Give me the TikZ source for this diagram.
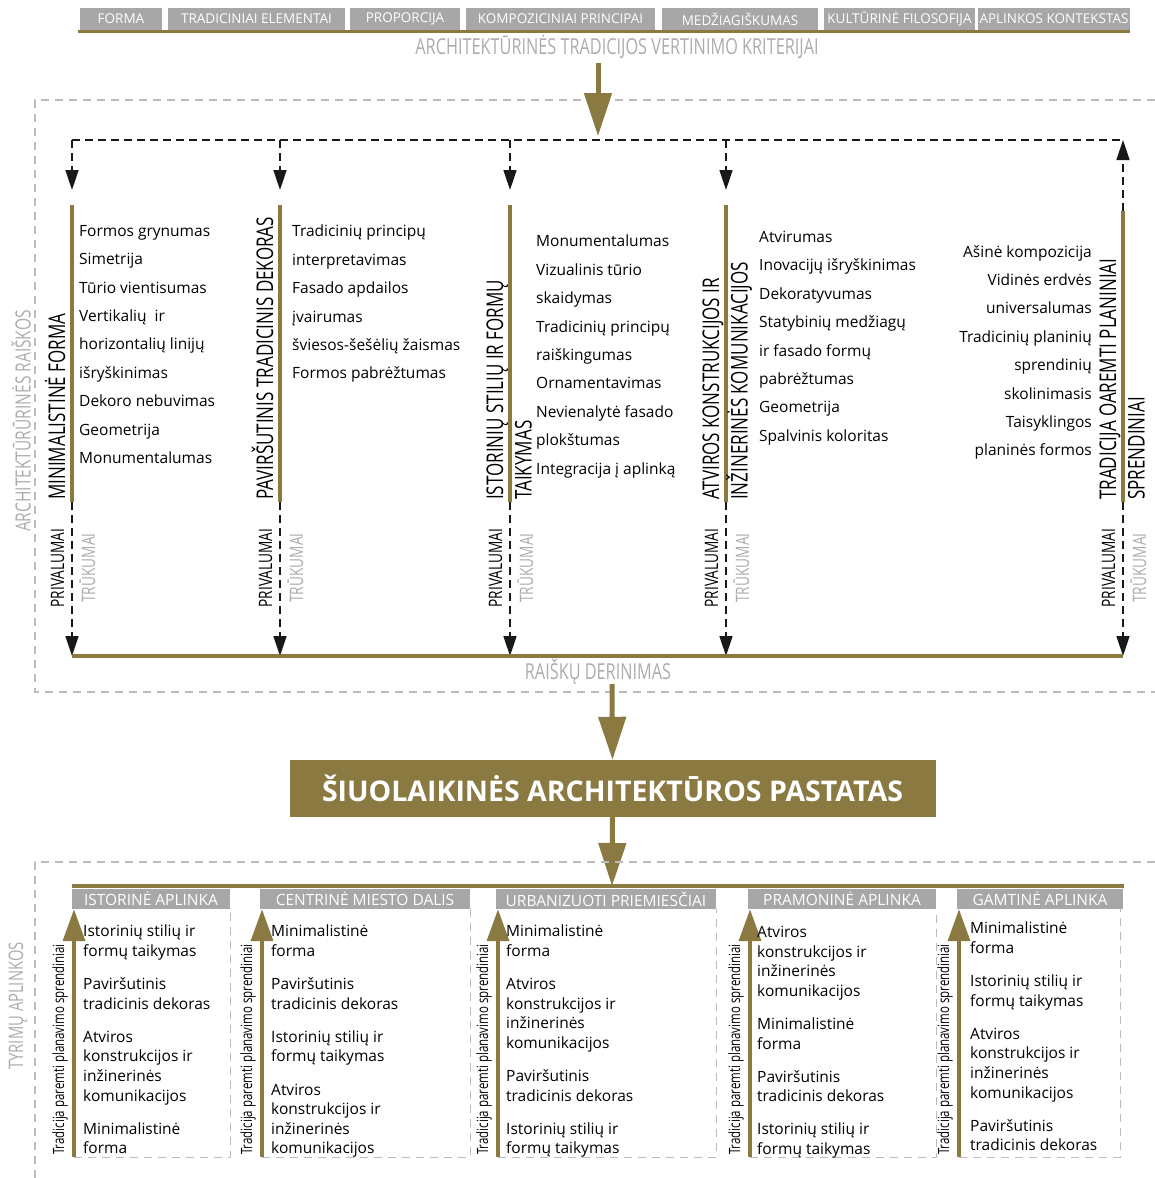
\documentclass[tikz,border=0pt]{standalone}
\usepackage{fontspec}
\setmainfont{Open Sans}
\newfontfamily\condfont{Open Sans}[FakeStretch=0.74]
\usetikzlibrary{arrows.meta}

\definecolor{gold}{RGB}{139,121,66}
\definecolor{tabgray}{RGB}{167,167,167}
\definecolor{softgray}{RGB}{172,172,172}
\definecolor{dashgray}{RGB}{188,188,188}
\definecolor{inkblack}{RGB}{25,25,25}

\begin{document}
\begin{tikzpicture}[x=1pt,y=1pt,yscale=-1,xscale=1,
  tab/.style={fill=tabgray, text=white, inner sep=0pt, minimum height=22, font=\fontsize{13.5}{14}\selectfont},
  envtab/.style={fill=tabgray, text=white, inner sep=0pt, minimum height=20, font=\fontsize{15.5}{16}\selectfont},
  goldline/.style={draw=gold, line width=3.5},
  goldbar/.style={draw=gold, line width=4},
  bigarrow/.style={draw=gold, line width=5, -{Triangle[length=43pt,width=27pt]}},
  envarrow/.style={draw=gold, line width=3.5, -{Triangle[length=32pt,width=22pt]}},
  blkdash/.style={draw=inkblack, line width=1.6, dash pattern=on 8pt off 5pt},
  blkarrow/.style={blkdash, -{Triangle[length=20pt,width=13pt]}},
  graybox/.style={draw=dashgray, line width=1.6, dash pattern=on 8pt off 6pt},
  colbox/.style={draw=dashgray, line width=1, dash pattern=on 8pt off 6pt},
  coltitle/.style={rotate=90, inner sep=0pt, anchor=base west, font=\fontsize{23}{24}\condfont},
  sidelbl/.style={rotate=90, inner sep=0pt, text=softgray, font=\fontsize{21}{22}\condfont},
  pros/.style={rotate=90, inner sep=0pt, anchor=base, font=\fontsize{18.5}{19}\condfont},
  cons/.style={pros, text=softgray},
  envlbl/.style={rotate=90, inner sep=0pt, anchor=base west, font=\fontsize{15.5}{16}\condfont},
  crit/.style={inner sep=0pt, text=softgray, font=\fontsize{22}{23}\condfont},
  item/.style={inner sep=0pt, align=left, anchor=north west, font=\fontsize{15.5}{28.4}\selectfont},
  envitem/.style={inner sep=0pt, align=left, anchor=north west, font=\fontsize{15.5}{19.6}\selectfont},
  mainbox/.style={fill=gold, text=white, inner sep=0pt, minimum width=646, minimum height=57, font=\bfseries\fontsize{28.5}{30}\selectfont}
]
\useasboundingbox (0,0) rectangle (1155,1178);

% Criteria tabs
\node[tab, minimum width=82] (forma) at (121,19) {FORMA};
\node[tab, minimum width=177] (elem) at (256.5,19) {TRADICINIAI ELEMENTAI};
\node[tab, minimum width=110] (prop) at (405,19) {PROPORCIJA};
\node[tab, minimum width=189] (komp) at (560.5,19) {KOMPOZICINIAI PRINCIPAI};
\node[tab, minimum width=156] (medz) at (740,19) {MEDŽIAGIŠKUMAS};
\node[tab, minimum width=151] (filo) at (899.5,19) {KULTŪRINĖ FILOSOFIJA};
\node[tab, minimum width=152] (aplk) at (1054,19) {APLINKOS KONTEKSTAS};
%Straight Lines
\coordinate (critL) at (78,31.5);
\coordinate (critR) at (1130,31.5);
\draw[goldline, line width=3] (critL) -- (critR);
% Text Node
\node[crit] (critlbl) at (617,47) {ARCHITEKTŪRINĖS TRADICIJOS VERTINIMO KRITERIJAI};

% Upper frame
\draw[graybox] (1155,100) -- (35,100) -- (35,692) -- (1155,692);
\node[sidelbl] (raisk) at (21,421) {ARCHITEKTŪRŪRINĖS RAIŠKOS};

% Fan-out line and column bars
\coordinate (crit0) at (598,63);
\coordinate (fan) at (598,140);
\coordinate (t1) at (72,140);
\coordinate (t2) at (280,140);
\coordinate (t3) at (510,140);
\coordinate (t4) at (726,140);
\coordinate (t5) at (1123,140);
\coordinate (b1t) at (72,205);
\coordinate (b2t) at (280,205);
\coordinate (b3t) at (510,205);
\coordinate (b4t) at (726,205);
\coordinate (b5t) at (1123,211);
\coordinate (b1b) at (72,502);
\coordinate (b2b) at (280,502);
\coordinate (b3b) at (510,502);
\coordinate (b4b) at (726,502);
\coordinate (b5b) at (1123,502);
\coordinate (g1) at (72,656);
\coordinate (g2) at (280,656);
\coordinate (g3) at (510,656);
\coordinate (g4) at (726,656);
\coordinate (g5) at (1123,656);

\draw[blkdash] (t1) -- (t5);
\draw[blkarrow, shorten >=15pt] (t1) -- (b1t);
\draw[blkarrow, shorten >=15pt] (t2) -- (b2t);
\draw[blkarrow, shorten >=15pt] (t3) -- (b3t);
\draw[blkarrow, shorten >=15pt] (t4) -- (b4t);
\draw[blkarrow] (b5t) -- (t5);
\draw[bigarrow, shorten >=4pt] (crit0) -- (fan);

\draw[goldbar] (b1t) -- (b1b);
\draw[goldbar] (b2t) -- (b2b);
\draw[goldbar] (b3t) -- (b3b);
\draw[goldbar] (b4t) -- (b4b);
\draw[goldbar] (b5t) -- (b5b);

\draw[blkarrow] (b1b) -- (g1);
\draw[blkarrow] (b2b) -- (g2);
\draw[blkarrow] (b3b) -- (g3);
\draw[blkarrow] (b4b) -- (g4);
\draw[blkarrow] (b5b) -- (g5);
\draw[goldline] (g1) -- (g5);

% Column titles
\node[coltitle] (ttl1) at (65,500) {MINIMALISTINĖ FORMA};
\node[coltitle] (ttl2) at (273,500) {PAVIRŠUTINIS TRADICINIS DEKORAS};
\node[coltitle] (ttl3) at (503,500) {ISTORINIŲ STILIŲ IR FORMŲ};
\node[coltitle] (ttl3b) at (531.5,500) {TAIKYMAS};
\node[coltitle] (ttl4) at (719,500) {ATVIROS KONSTRUKCIJOS IR};
\node[coltitle] (ttl4b) at (747.5,500) {INŽINERINĖS KOMUNIKACIJOS};
\node[coltitle] (ttl5) at (1116,500) {TRADICIJA OAREMTI PLANINIAI};
\node[coltitle] (ttl5b) at (1144.5,500) {SPRENDINIAI};

% Column items
\node[item] (it1) at (79,225) {Formos grynumas\\Simetrija\\Tūrio vientisumas\\Vertikalių\ \ ir\\horizontalių linijų\\išryškinimas\\Dekoro nebuvimas\\Geometrija\\Monumentalumas};
\node[item] (it2) at (292,225) {Tradicinių principų\\interpretavimas\\Fasado apdailos\\įvairumas\\šviesos-šešėlių žaismas\\Formos pabrėžtumas};
\node[item] (it3) at (536,235) {Monumentalumas\\Vizualinis tūrio\\skaidymas\\Tradicinių principų\\raiškingumas\\Ornamentavimas\\Nevienalytė fasado\\plokštumas\\Integracija į aplinką};
\node[item] (it4) at (759,231) {Atvirumas\\Inovacijų išryškinimas\\Dekoratyvumas\\Statybinių medžiagų\\ir fasado formų\\pabrėžtumas\\Geometrija\\Spalvinis koloritas};
\node[item, align=right, anchor=north east] (it5) at (1092,245) {Ašinė kompozicija\\Vidinės erdvės\\universalumas\\Tradicinių planinių\\sprendinių\\skolinimasis\\Taisyklingos\\planinės formos};

% Pros and cons
\node[pros] (pv1) at (64,568) {PRIVALUMAI};
\node[cons] (tr1) at (95,568) {TRŪKUMAI};
\node[pros] (pv2) at (272,568) {PRIVALUMAI};
\node[cons] (tr2) at (303,568) {TRŪKUMAI};
\node[pros] (pv3) at (502,568) {PRIVALUMAI};
\node[cons] (tr3) at (533,568) {TRŪKUMAI};
\node[pros] (pv4) at (718,568) {PRIVALUMAI};
\node[cons] (tr4) at (749,568) {TRŪKUMAI};
\node[pros] (pv5) at (1115,568) {PRIVALUMAI};
\node[cons] (tr5) at (1146,568) {TRŪKUMAI};

% Text Node
\node[crit] (mixlbl) at (598,672) {RAIŠKŲ DERINIMAS};

% Building
\coordinate (mix) at (612,684);
\node[mainbox] (bld) at (612.5,788.5) {ŠIUOLAIKINĖS ARCHITEKTŪROS PASTATAS};
\coordinate (envmid) at (612,886);
\draw[bigarrow] (mix) -- (bld.north);
\draw[bigarrow] (bld.south) -- (envmid);

% Lower frame
\draw[graybox] (1155,862) -- (35,862) -- (35,1178);
\node[sidelbl, font=\fontsize{20}{21}\condfont] (tyr) at (18,1006) {TYRIMŲ APLINKOS};

\coordinate (e1) at (72,886);
\coordinate (e5) at (1124,886);
\draw[goldline] (e1) -- (e5);

% Environment tabs
\node[envtab, minimum width=158] (ist) at (151,899) {ISTORINĖ APLINKA};
\node[envtab, minimum width=210] (cen) at (365,899) {CENTRINĖ MIESTO DALIS};
\node[envtab, minimum width=220] (urb) at (606,899) {URBANIZUOTI PRIEMIESČIAI};
\node[envtab, minimum width=188] (pra) at (842,899) {PRAMONINĖ APLINKA};
\node[envtab, minimum width=166] (gam) at (1040,899) {GAMTINĖ APLINKA};

\coordinate (f1) at (74,1157);
\coordinate (f2) at (262,1157);
\coordinate (f3) at (498,1157);
\coordinate (f4) at (750,1157);
\coordinate (f5) at (959,1157);

\draw[colbox] (f1) -| (ist.south east);
\draw[colbox] (f2) -| (cen.south east);
\draw[colbox] (f3) -| (urb.south east);
\draw[colbox] (f4) -| (pra.south east);
\draw[colbox] (f5) -| ([xshift=-3pt]gam.south east);

\draw[envarrow] (f1) -- (f1 |- ist.south);
\draw[envarrow] (f2) -- (f2 |- cen.south);
\draw[envarrow] (f3) -- (f3 |- urb.south);
\draw[envarrow] (f4) -- (f4 |- pra.south);
\draw[envarrow] (f5) -- (f5 |- gam.south);

\node[envlbl] (pl1) at (64,1155) {Tradicija paremti planavimo sprendiniai};
\node[envlbl] (pl2) at (252,1155) {Tradicija paremti planavimo sprendiniai};
\node[envlbl] (pl3) at (488,1155) {Tradicija paremti planavimo sprendiniai};
\node[envlbl] (pl4) at (740,1155) {Tradicija paremti planavimo sprendiniai};
\node[envlbl] (pl5) at (949,1155) {Tradicija paremti planavimo sprendiniai};

% Environment items
\node[envitem] (ei1) at (83,925) {Istorinių stilių ir\\formų taikymas\\[13.5pt]Paviršutinis\\tradicinis dekoras\\[13.5pt]Atviros\\konstrukcijos ir\\inžinerinės\\komunikacijos\\[13.5pt]Minimalistinė\\forma};
\node[envitem] (ei2) at (271,925) {Minimalistinė\\forma\\[13.5pt]Paviršutinis\\tradicinis dekoras\\[13.5pt]Istorinių stilių ir\\formų taikymas\\[13.5pt]Atviros\\konstrukcijos ir\\inžinerinės\\komunikacijos};
\node[envitem] (ei3) at (506,925) {Minimalistinė\\forma\\[13.5pt]Atviros\\konstrukcijos ir\\inžinerinės\\komunikacijos\\[13.5pt]Paviršutinis\\tradicinis dekoras\\[13.5pt]Istorinių stilių ir\\formų taikymas};
\node[envitem] (ei4) at (757,926) {Atviros\\konstrukcijos ir\\inžinerinės\\komunikacijos\\[13.5pt]Minimalistinė\\forma\\[13.5pt]Paviršutinis\\tradicinis dekoras\\[13.5pt]Istorinių stilių ir\\formų taikymas};
\node[envitem] (ei5) at (970,922) {Minimalistinė\\forma\\[13.5pt]Istorinių stilių ir\\formų taikymas\\[13.5pt]Atviros\\konstrukcijos ir\\inžinerinės\\komunikacijos\\[13.5pt]Paviršutinis\\tradicinis dekoras};

\end{tikzpicture}
\end{document}
